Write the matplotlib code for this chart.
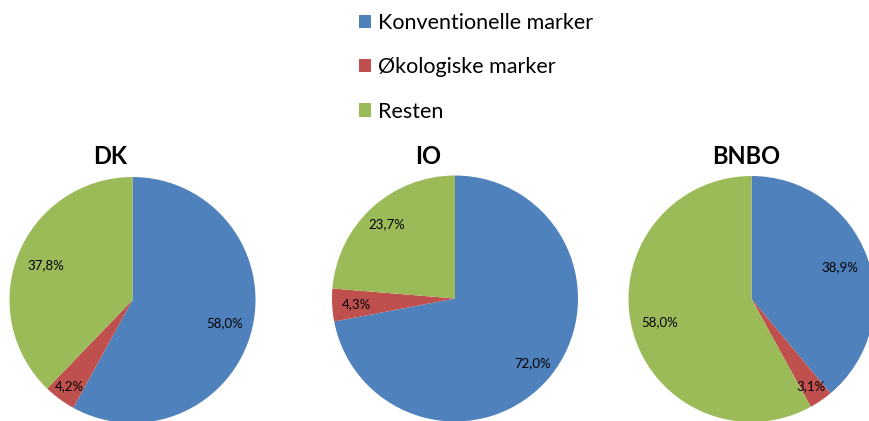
import matplotlib
matplotlib.use("Agg")
import matplotlib.pyplot as plt
import numpy as np

plt.rcParams['font.family'] = ['Lato', 'DejaVu Sans']

categories = ["Konventionelle marker", "Økologiske marker", "Resten"]
charts = ["DK", "IO", "BNBO"]
values_dk = [58.0, 4.2, 37.8]
values_io = [72.0, 4.3, 23.7]
values_bnbo = [38.9, 3.1, 58.0]
all_values = [values_dk, values_io, values_bnbo]

colors = ["#4F81BD", "#C0504D", "#9BBB59"]

W, H = 869, 421
fig = plt.figure(figsize=(W / 100, H / 100), dpi=100)

# layout (pixels)
centers = [(132.5, 300.0), (455.0, 298.5), (751.5, 299.0)]
title_x = [110, 428, 746]
title_y = 156
R = 123.0
pad = 1.05
label_dist = [[0.77, 0.87, 0.76], [0.82, 0.80, 0.82], [0.76, 0.86, 0.77]]

first_wedges = None
for name, vals, (cx, cy), tx, ld in zip(charts, all_values, centers, title_x, label_dist):
    half = R * pad
    ax = fig.add_axes([(cx - half) / W, (H - cy - half) / H, 2 * half / W, 2 * half / H])
    wedges, texts = ax.pie(vals, colors=colors, startangle=90, counterclock=False,
                           radius=1.0, wedgeprops=dict(linewidth=0))
    for w, v, d in zip(wedges, vals, ld):
        ang = np.deg2rad((w.theta1 + w.theta2) / 2)
        ax.text(d * np.cos(ang), d * np.sin(ang), f"{v:.1f}".replace(".", ",") + "%",
                ha="center", va="center", fontsize=9.5, color="black")
    ax.set_xlim(-pad, pad)
    ax.set_ylim(-pad, pad)
    ax.set_aspect("auto")
    ax.axis("off")
    fig.text(tx / W, 1 - title_y / H, name, ha="center", va="center",
             fontsize=17, fontweight="bold", color="black")
    if first_wedges is None:
        first_wedges = wedges

fig.legend(first_wedges, categories, loc="upper left",
           bbox_to_anchor=(359 / W, 1 - 13 / H), frameon=False, fontsize=15.5,
           handlelength=0.56, handleheight=0.56, handletextpad=0.3,
           labelspacing=1.13, borderpad=0, borderaxespad=0)

fig.savefig("out.png", dpi=100)
